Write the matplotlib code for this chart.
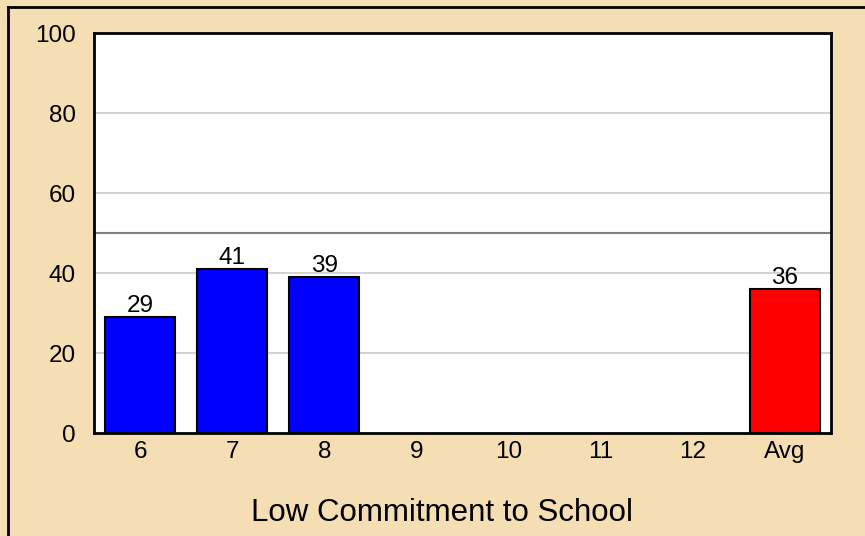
import matplotlib
matplotlib.use("Agg")
import matplotlib.pyplot as plt
from matplotlib.lines import Line2D

plt.rcParams['font.family'] = ['Liberation Sans', 'DejaVu Sans']

categories = ['6', '7', '8', '9', '10', '11', '12', 'Avg']
values = [29, 41, 39, None, None, None, None, 36]
colors = ['#0000FF'] * 7 + ['#FF0000']
ref_line = 50

fig = plt.figure(figsize=(8.65, 5.36), dpi=100)
fig.patch.set_facecolor('#F5DEB3')
ax = fig.add_axes([94 / 865, 1 - 433 / 536, 737 / 865, 400 / 536])
ax.set_facecolor('white')

# outer frame (only top and left edges show)
fig.add_artist(Line2D([8 / 865, 1], [1 - 7 / 536, 1 - 7 / 536], color='black', lw=2))
fig.add_artist(Line2D([8 / 865, 8 / 865], [0, 1 - 7 / 536], color='black', lw=2))

x = range(len(categories))
for i, (v, c) in enumerate(zip(values, colors)):
    if v is None:
        continue
    ax.bar(i, v, width=0.76, color=c, edgecolor='black', linewidth=1.5, zorder=3)
    ax.text(i, v + 0.1, str(v), ha='center', va='bottom', fontsize=17.5, zorder=4)

for y in [20, 40, 60, 80]:
    ax.axhline(y, color='#D3D3D3', lw=1.5, zorder=1)
ax.axhline(ref_line, color='#808080', lw=1.5, zorder=2)

ax.set_xlim(-0.5, len(categories) - 0.5)
ax.set_ylim(0, 100)
ax.set_xticks(list(x))
ax.set_xticklabels(categories)
ax.set_yticks([0, 20, 40, 60, 80, 100])
ax.tick_params(axis='both', length=0, labelsize=17.5)
ax.tick_params(axis='y', pad=13)
ax.tick_params(axis='x', pad=6)
for s in ax.spines.values():
    s.set_linewidth(2)
    s.set_zorder(5)

# title sits a bit left of the plot centre in the original
fig.text(441.5 / 865, 1 - 513 / 536, 'Low Commitment to School',
         ha='center', va='center', fontsize=22.5)

fig.savefig('out.png', dpi=100, facecolor=fig.get_facecolor())
